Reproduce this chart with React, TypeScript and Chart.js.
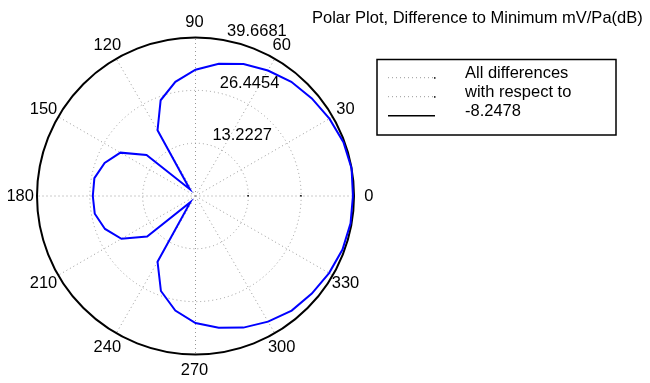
import React, { useEffect, useRef } from 'react';
import { Chart, registerables } from 'chart.js';

Chart.register(...registerables);

// ---- data ----
const TITLE = 'Polar Plot, Difference to Minimum mV/Pa(dB)';
const R_MAX = 39.6681;
const RING_VALUES = [13.2227, 26.4454, 39.6681];
const RING_LABELS = ['13.2227', '26.4454', '39.6681'];
const ANGLE_TICKS = [0, 30, 60, 90, 120, 150, 180, 210, 240, 270, 300, 330];
const ANGLE_LABELS = ['0', '30', '60', '90', '120', '150', '180', '210', '240', '270', '300', '330'];
const LEGEND_LABELS = ['All differences', 'with respect to', '-8.2478'];

const ANGLES_DEG = [
  0, 10, 20, 30, 40, 50, 60, 70, 80, 90, 100, 110,
  120, 130, 140, 150, 160, 170, 180, 190, 200, 210, 220, 230,
  240, 250, 260, 270, 280, 290, 300, 310, 320, 330, 340, 350, 360,
];
const DIFF_VALUES = [
  39.4, 39.6681, 39.4, 38.7, 38.0, 37.3, 36.25, 35.15, 33.6, 31.6, 29.0, 25.5,
  19.0, 2.2, 16.0, 21.7, 24.2, 25.7, 25.7, 25.6, 24.1, 21.4, 15.8, 2.0,
  19.0, 25.3, 29.1, 31.8, 33.5, 35.05, 36.3, 37.45, 38.0, 38.6, 39.15, 39.4, 39.4,
];

const FONT = '16.5px "Liberation Sans", Arial, Helvetica, sans-serif';
const GRID_COLOR = '#999999';
const GRID_DASH = [1, 3];

const polarPlugin = {
  id: 'polarDecor',
  beforeDatasetsDraw(chart: any) {
    const ctx: CanvasRenderingContext2D = chart.ctx;
    const xs = chart.scales.x;
    const ys = chart.scales.y;
    const cx = xs.getPixelForValue(0);
    const cy = ys.getPixelForValue(0);
    const pr = (r: number) => xs.getPixelForValue(r) - cx;
    const R = pr(R_MAX);
    ctx.save();
    // dotted rings
    ctx.strokeStyle = GRID_COLOR;
    ctx.lineWidth = 1;
    ctx.setLineDash(GRID_DASH);
    RING_VALUES.slice(0, -1).forEach((r) => {
      ctx.beginPath();
      ctx.arc(cx, cy, pr(r), 0, Math.PI * 2);
      ctx.stroke();
    });
    // spokes
    ANGLE_TICKS.forEach((a) => {
      const t = (a * Math.PI) / 180;
      ctx.beginPath();
      ctx.moveTo(cx, cy);
      ctx.lineTo(cx + R * Math.cos(t), cy - R * Math.sin(t));
      ctx.stroke();
    });
    ctx.setLineDash([]);
    // small black marks where the dotted rings start
    ctx.fillStyle = '#000';
    RING_VALUES.slice(0, -1).forEach((r) => {
      ctx.fillRect(cx + pr(r) - 1, cy - 1, 1.5, 1.5);
    });
    // outer solid circle
    ctx.strokeStyle = '#000';
    ctx.lineWidth = 2;
    ctx.beginPath();
    ctx.arc(cx, cy, R, 0, Math.PI * 2);
    ctx.stroke();
    // ring labels at 82 deg
    ctx.font = FONT;
    ctx.fillStyle = '#000';
    ctx.textAlign = 'left';
    ctx.textBaseline = 'bottom';
    const t82 = (82 * Math.PI) / 180;
    const rinc = RING_VALUES[0];
    RING_VALUES.forEach((r, i) => {
      const rr = pr(r + rinc / 20);
      ctx.fillText('  ' + RING_LABELS[i], cx + rr * Math.cos(t82), cy - rr * Math.sin(t82) + 3);
    });
    // angle labels
    ctx.textAlign = 'center';
    ctx.textBaseline = 'middle';
    const rl = pr(R_MAX * 1.1);
    ANGLE_TICKS.forEach((a, i) => {
      const t = (a * Math.PI) / 180;
      ctx.fillText(ANGLE_LABELS[i], cx - 1 + rl * Math.cos(t), cy + 0.5 - rl * Math.sin(t));
    });
    ctx.restore();
  },
  afterDraw(chart: any) {
    const ctx: CanvasRenderingContext2D = chart.ctx;
    ctx.save();
    ctx.font = FONT;
    ctx.fillStyle = '#000';
    ctx.textAlign = 'left';
    ctx.textBaseline = 'alphabetic';
    ctx.fillText(TITLE, 304, 14.7);
    // legend box
    ctx.strokeStyle = '#000';
    ctx.lineWidth = 1.5;
    ctx.strokeRect(369, 51.5, 239, 75.5);
    const rows = [69.7, 88.7, 107.7];
    LEGEND_LABELS.forEach((lab, i) => {
      const y = rows[i];
      if (i < 2) {
        ctx.strokeStyle = GRID_COLOR;
        ctx.lineWidth = 1;
        ctx.setLineDash(GRID_DASH);
        ctx.beginPath();
        ctx.moveTo(380, y);
        ctx.lineTo(426, y);
        ctx.stroke();
        ctx.setLineDash([]);
        ctx.fillStyle = '#000';
        ctx.fillRect(426, y - 0.5, 1.5, 1.5);
      } else {
        ctx.strokeStyle = '#000';
        ctx.lineWidth = 1.5;
        ctx.beginPath();
        ctx.moveTo(380, y);
        ctx.lineTo(427, y);
        ctx.stroke();
      }
      ctx.fillStyle = '#000';
      ctx.fillText(lab, 457, y);
    });
    ctx.restore();
  },
};

export default function App() {
  const ref = useRef<HTMLCanvasElement>(null);
  useEffect(() => {
    const points = ANGLES_DEG.map((a, i) => {
      const t = (a * Math.PI) / 180;
      return { x: DIFF_VALUES[i] * Math.cos(t), y: DIFF_VALUES[i] * Math.sin(t) };
    });
    const chart = new Chart(ref.current as HTMLCanvasElement, {
      type: 'scatter',
      data: {
        datasets: [
          {
            data: points,
            showLine: true,
            borderColor: '#0000ff',
            backgroundColor: '#0000ff',
            borderWidth: 2,
            pointRadius: 0,
            tension: 0,
            fill: false,
            clip: false as any,
          } as any,
        ],
      },
      options: {
        animation: false,
        responsive: false,
        maintainAspectRatio: false,
        devicePixelRatio: 1,
        layout: { padding: { left: 29, top: 29.5, right: 288, bottom: 20.5 } },
        scales: {
          x: { type: 'linear', min: -R_MAX, max: R_MAX, display: false },
          y: { type: 'linear', min: -R_MAX, max: R_MAX, display: false },
        },
        plugins: {
          legend: { display: false },
          tooltip: { enabled: false },
          title: { display: false },
        },
        events: [],
      },
      plugins: [polarPlugin],
    });
    return () => chart.destroy();
  }, []);
  return (
    <div style={{ width: 634, height: 367, background: '#fff' }}>
      <canvas ref={ref} width={634} height={367} style={{ display: 'block' }} />
    </div>
  );
}
